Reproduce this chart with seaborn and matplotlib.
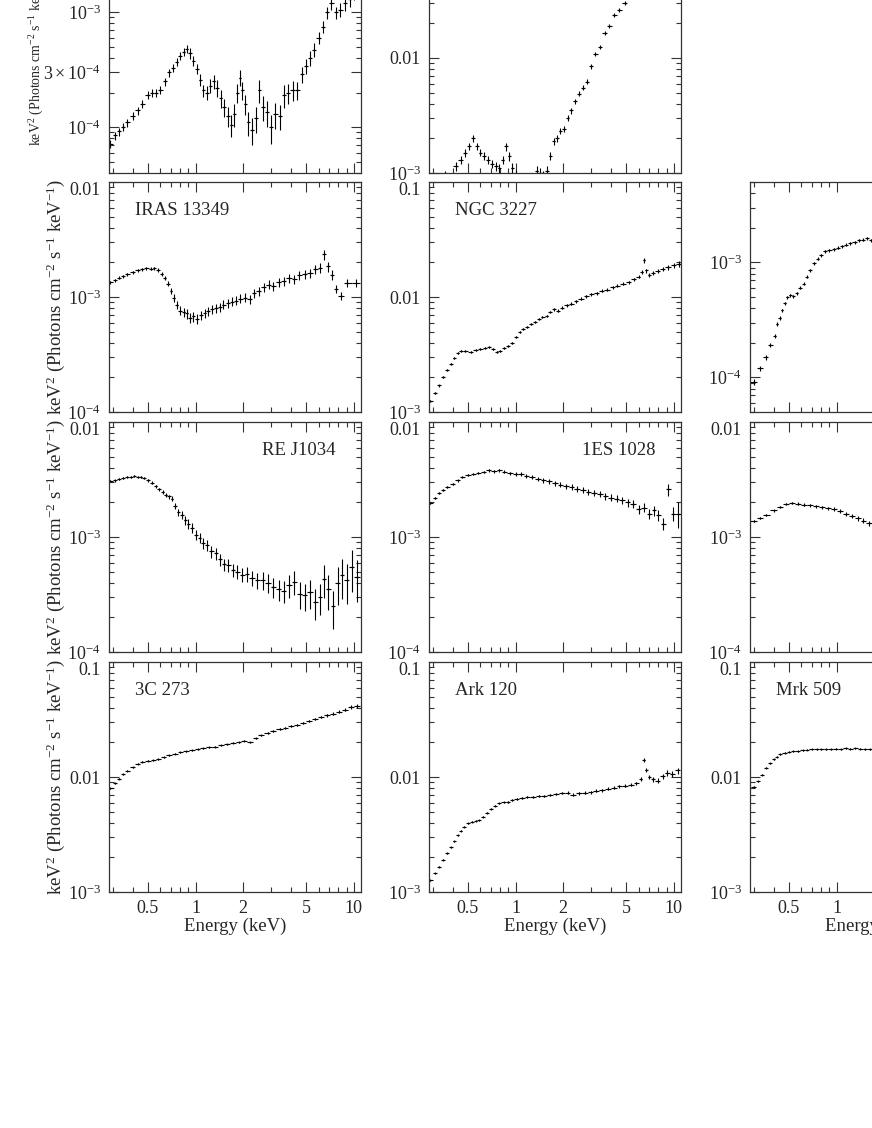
import matplotlib
matplotlib.use("Agg")
import matplotlib.pyplot as plt
import matplotlib.transforms as mtransforms
import seaborn as sns
import numpy as np
import pandas as pd

#####################
# Spectra (read off) #
#####################

# top row, left (name cut off) - flux in units of 1e-4
tl_energy = [0.29, 0.31, 0.33, 0.35, 0.37, 0.40, 0.43, 0.46, 0.50, 0.53,
             0.56, 0.60, 0.64, 0.68, 0.72, 0.76, 0.80, 0.84, 0.88, 0.92,
             0.97, 1.02, 1.07, 1.12, 1.18, 1.24, 1.30, 1.37, 1.44, 1.52,
             1.60, 1.68, 1.76, 1.84, 1.90, 1.97, 2.05, 2.15, 2.27, 2.40,
             2.53, 2.66, 2.82, 3.00, 3.20, 3.40, 3.60, 3.85, 4.10, 4.40,
             4.70, 5.00, 5.30, 5.60, 6.00, 6.40, 6.80, 7.20, 7.70, 8.20,
             8.80, 9.40, 10.0, 10.7]
tl_flux = [0.72, 0.85, 0.92, 1.00, 1.10, 1.25, 1.40, 1.60, 1.90, 2.00,
           2.00, 2.10, 2.50, 3.00, 3.30, 3.70, 4.20, 4.50, 4.80, 4.40,
           3.80, 3.20, 2.60, 2.10, 2.00, 2.30, 2.50, 2.20, 1.80, 1.50,
           1.25, 1.05, 1.30, 2.00, 2.70, 2.10, 1.60, 1.10, 0.95, 1.20,
           2.10, 1.50, 1.35, 1.00, 1.30, 1.25, 1.90, 2.00, 2.10, 2.10,
           2.90, 3.40, 4.00, 4.70, 6.00, 7.50, 10.0, 12.0, 10.0, 10.5,
           12.0, 13.0, 15.0, 17.0]
tl_err = [8, 8, 8, 8, 8, 8, 8, 8, 8, 8,
          8, 8, 8, 8, 8, 8, 8, 8, 8, 10,
          10, 10, 12, 12, 14, 14, 14, 16, 18, 18,
          20, 22, 22, 18, 16, 18, 20, 24, 26, 26,
          22, 24, 26, 28, 26, 24, 22, 20, 20, 18,
          16, 15, 14, 14, 12, 12, 12, 12, 12, 14,
          14, 14, 15, 15]

# top row, middle (name cut off) - flux in units of 1e-3
tm_energy = [0.33, 0.36, 0.39, 0.42, 0.45, 0.48, 0.51, 0.54, 0.57, 0.60,
             0.63, 0.67, 0.71, 0.75, 0.79, 0.83, 0.87, 0.91, 0.95, 1.00,
             1.10, 1.20, 1.30, 1.36, 1.42, 1.50, 1.58, 1.66, 1.74, 1.82,
             1.92, 2.02, 2.13, 2.25, 2.38, 2.52, 2.67, 2.83, 3.00, 3.20,
             3.40, 3.65, 3.90, 4.20, 4.50, 4.90, 5.30, 5.80, 6.40, 7.10,
             8.00, 9.00, 10.2]
tm_flux = [0.85, 0.95, 0.88, 1.15, 1.30, 1.50, 1.70, 2.00, 1.70, 1.50,
           1.40, 1.30, 1.20, 1.15, 1.10, 1.30, 1.70, 1.40, 1.10, 0.95,
           0.80, 0.70, 0.90, 1.05, 1.00, 0.95, 1.05, 1.40, 1.90, 2.00,
           2.30, 2.40, 3.00, 3.50, 4.20, 4.90, 5.50, 6.20, 8.50, 10.8,
           12.5, 16.5, 19.0, 23.5, 26.0, 30.0, 34.0, 37.0, 42.0, 46.0,
           50.0, 52.0, 53.0]
tm_err = [12, 10, 10, 9, 8, 8, 7, 7, 7, 7,
          8, 8, 8, 9, 9, 8, 8, 9, 10, 11,
          12, 12, 11, 10, 10, 10, 9, 8, 7, 7,
          6, 6, 6, 6, 5, 5, 5, 5, 5, 4,
          4, 4, 4, 4, 4, 4, 4, 4, 4, 4,
          5, 5, 5]

# IRAS 13349 - units of 1e-3
iras_energy = [0.29, 0.31, 0.33, 0.35, 0.37, 0.40, 0.43, 0.46, 0.49, 0.52,
               0.55, 0.58, 0.61, 0.64, 0.67, 0.70, 0.73, 0.76, 0.80, 0.84,
               0.88, 0.92, 0.97, 1.02, 1.08, 1.14, 1.20, 1.27, 1.34, 1.42,
               1.50, 1.60, 1.70, 1.80, 1.92, 2.05, 2.20, 2.35, 2.50, 2.70,
               2.90, 3.10, 3.35, 3.60, 3.90, 4.20, 4.50, 4.90, 5.30, 5.70,
               6.10, 6.50, 6.90, 7.30, 7.70, 8.30, 9.10, 10.3]
iras_flux = [1.34, 1.40, 1.47, 1.52, 1.58, 1.64, 1.70, 1.75, 1.78, 1.76,
             1.78, 1.72, 1.60, 1.45, 1.30, 1.12, 0.98, 0.85, 0.76, 0.74,
             0.72, 0.66, 0.68, 0.65, 0.70, 0.72, 0.75, 0.78, 0.80, 0.82,
             0.86, 0.88, 0.91, 0.93, 0.97, 0.99, 0.96, 1.08, 1.12, 1.22,
             1.28, 1.25, 1.35, 1.38, 1.45, 1.42, 1.55, 1.58, 1.62, 1.75,
             1.80, 2.35, 1.85, 1.55, 1.18, 1.02, 1.32, 1.32]
iras_err = [3, 3, 3, 3, 3, 3, 3, 3, 3, 3,
            3, 4, 4, 4, 5, 6, 8, 8, 9, 9,
            10, 10, 10, 10, 9, 9, 9, 9, 9, 9,
            9, 9, 9, 9, 9, 9, 9, 9, 9, 9,
            9, 9, 9, 9, 9, 9, 9, 9, 9, 9,
            10, 10, 10, 10, 8, 8, 8, 8]

# NGC 3227 - units of 1e-3
ngc_energy = [0.29, 0.31, 0.33, 0.35, 0.37, 0.39, 0.41, 0.43, 0.45, 0.48,
              0.52, 0.56, 0.60, 0.64, 0.68, 0.72, 0.76, 0.80, 0.85, 0.90,
              0.95, 1.00, 1.06, 1.12, 1.18, 1.25, 1.32, 1.40, 1.48, 1.57,
              1.66, 1.76, 1.86, 1.97, 2.10, 2.25, 2.40, 2.60, 2.80, 3.00,
              3.25, 3.50, 3.80, 4.10, 4.40, 4.80, 5.20, 5.60, 6.00, 6.25,
              6.45, 6.70, 7.00, 7.40, 7.90, 8.50, 9.20, 10.0, 10.8]
ngc_flux = [1.25, 1.45, 1.70, 2.00, 2.30, 2.60, 2.95, 3.25, 3.40, 3.40,
            3.35, 3.45, 3.50, 3.60, 3.65, 3.55, 3.35, 3.40, 3.60, 3.75,
            4.00, 4.50, 5.00, 5.30, 5.50, 5.80, 6.10, 6.40, 6.70, 6.90,
            7.40, 7.80, 7.60, 8.10, 8.50, 8.70, 9.20, 9.70, 10.2, 10.6,
            10.8, 11.3, 11.6, 12.2, 12.5, 13.0, 13.5, 14.2, 15.0, 16.5,
            21.0, 17.0, 15.5, 16.2, 16.8, 17.5, 18.2, 18.8, 19.3]
ngc_err = [2, 2, 2, 2, 2, 2, 2, 2, 2, 2,
           2, 2, 2, 2, 2, 2, 2, 2, 2, 2,
           2, 2, 2, 2, 2, 2, 2, 2, 2, 2,
           2, 3, 3, 3, 3, 3, 3, 3, 3, 3,
           3, 3, 3, 3, 3, 3, 3, 3, 3, 4,
           5, 4, 4, 4, 4, 4, 5, 5, 6]

# row 2, right (name cut off) - units of 1e-4
r1c3_energy = [0.30, 0.33, 0.36, 0.38, 0.41, 0.42, 0.44, 0.45, 0.47, 0.49,
               0.51, 0.53, 0.56, 0.59, 0.62, 0.65, 0.68, 0.72, 0.76, 0.80,
               0.85, 0.90, 0.96, 1.02, 1.08, 1.15, 1.22, 1.30, 1.38, 1.46,
               1.55, 1.65, 1.75, 1.90]
r1c3_flux = [0.91, 1.20, 1.50, 1.90, 2.30, 2.90, 3.30, 3.85, 4.40, 5.00,
             5.20, 5.10, 5.40, 6.00, 6.55, 7.50, 8.50, 9.80, 10.8, 11.5,
             12.5, 12.8, 13.0, 13.4, 13.8, 14.3, 14.6, 15.0, 15.5, 15.8,
             16.2, 15.5, 15.8, 16.0]
r1c3_err = [6, 5, 5, 4, 4, 4, 4, 3, 3, 3,
            3, 3, 3, 3, 3, 3, 3, 3, 3, 3,
            3, 3, 3, 3, 3, 3, 3, 3, 3, 3,
            3, 3, 3, 3]

# RE J1034 - units of 1e-3
rej_energy = [0.29, 0.31, 0.33, 0.35, 0.37, 0.39, 0.41, 0.43, 0.45, 0.47,
              0.50, 0.53, 0.56, 0.59, 0.62, 0.65, 0.68, 0.71, 0.74, 0.78,
              0.82, 0.86, 0.90, 0.95, 1.00, 1.06, 1.12, 1.19, 1.26, 1.34,
              1.42, 1.51, 1.61, 1.72, 1.84, 1.97, 2.11, 2.27, 2.45, 2.65,
              2.87, 3.10, 3.35, 3.60, 3.90, 4.20, 4.55, 4.90, 5.30, 5.70,
              6.10, 6.50, 6.90, 7.40, 7.90, 8.40, 9.00, 9.70, 10.5]
rej_flux = [3.05, 3.10, 3.20, 3.25, 3.30, 3.35, 3.40, 3.35, 3.35, 3.25,
            3.10, 2.95, 2.75, 2.60, 2.45, 2.30, 2.25, 2.15, 1.85, 1.65,
            1.55, 1.40, 1.30, 1.20, 1.05, 0.98, 0.88, 0.85, 0.75, 0.72,
            0.64, 0.58, 0.57, 0.52, 0.50, 0.47, 0.48, 0.44, 0.42, 0.42,
            0.40, 0.37, 0.35, 0.34, 0.38, 0.41, 0.32, 0.31, 0.33, 0.27,
            0.30, 0.43, 0.35, 0.25, 0.40, 0.47, 0.42, 0.55, 0.45]
rej_err = [2, 2, 2, 2, 2, 2, 2, 2, 2, 2,
           3, 3, 3, 3, 4, 4, 4, 5, 6, 7,
           8, 9, 10, 10, 10, 10, 11, 11, 12, 12,
           12, 12, 13, 13, 14, 14, 15, 15, 16, 17,
           18, 20, 20, 22, 22, 24, 26, 26, 28, 30,
           30, 32, 34, 36, 36, 38, 38, 40, 40]

# 1ES 1028 - units of 1e-3
es_energy = [0.29, 0.31, 0.33, 0.35, 0.37, 0.40, 0.43, 0.46, 0.50, 0.54,
             0.58, 0.63, 0.68, 0.73, 0.79, 0.85, 0.92, 1.00, 1.08, 1.17,
             1.27, 1.38, 1.50, 1.63, 1.77, 1.92, 2.08, 2.26, 2.45, 2.66,
             2.89, 3.14, 3.40, 3.70, 4.00, 4.35, 4.70, 5.10, 5.50, 6.00,
             6.50, 7.00, 7.50, 8.00, 8.60, 9.20, 9.90, 10.7]
es_flux = [1.98, 2.20, 2.40, 2.55, 2.70, 2.90, 3.10, 3.30, 3.45, 3.50,
           3.60, 3.70, 3.80, 3.75, 3.80, 3.70, 3.60, 3.55, 3.50, 3.40,
           3.30, 3.20, 3.10, 3.05, 2.95, 2.85, 2.75, 2.70, 2.60, 2.55,
           2.45, 2.40, 2.35, 2.25, 2.20, 2.15, 2.10, 2.00, 1.95, 1.75,
           1.80, 1.60, 1.70, 1.55, 1.30, 2.60, 1.60, 1.60]
es_err = [2, 2, 2, 2, 2, 2, 2, 2, 2, 2,
          2, 2, 3, 3, 3, 3, 3, 4, 4, 4,
          4, 4, 5, 5, 5, 5, 5, 6, 6, 6,
          6, 6, 6, 7, 7, 7, 7, 8, 8, 9,
          9, 10, 10, 11, 12, 12, 14, 25]

# row 3, right (name cut off) - units of 1e-3
r2c3_energy = [0.30, 0.33, 0.36, 0.40, 0.44, 0.48, 0.52, 0.57, 0.62, 0.68,
               0.74, 0.81, 0.88, 0.96, 1.05, 1.15, 1.25, 1.36, 1.48, 1.60,
               1.75, 1.90]
r2c3_flux = [1.38, 1.45, 1.55, 1.70, 1.82, 1.92, 1.98, 1.95, 1.90, 1.88,
             1.85, 1.82, 1.78, 1.74, 1.68, 1.60, 1.52, 1.45, 1.38, 1.32,
             1.30, 1.25]
r2c3_err = [2, 2, 2, 2, 2, 2, 2, 3, 3, 3,
            3, 3, 3, 4, 4, 4, 4, 5, 5, 5,
            5, 5]

# 3C 273 - units of 1e-2
qso_energy = [0.29, 0.31, 0.33, 0.35, 0.37, 0.40, 0.43, 0.46, 0.50, 0.54,
              0.58, 0.63, 0.68, 0.74, 0.80, 0.87, 0.95, 1.03, 1.12, 1.22,
              1.33, 1.45, 1.58, 1.72, 1.87, 2.03, 2.20, 2.40, 2.60, 2.85,
              3.10, 3.40, 3.70, 4.00, 4.40, 4.80, 5.20, 5.70, 6.20, 6.80,
              7.40, 8.10, 8.80, 9.60, 10.5]
qso_flux = [0.80, 0.88, 0.97, 1.06, 1.13, 1.22, 1.30, 1.36, 1.39, 1.40,
            1.42, 1.48, 1.55, 1.60, 1.64, 1.68, 1.71, 1.75, 1.78, 1.82,
            1.84, 1.88, 1.93, 1.98, 2.00, 2.06, 2.00, 2.18, 2.30, 2.42,
            2.50, 2.60, 2.65, 2.75, 2.85, 2.95, 3.05, 3.20, 3.35, 3.45,
            3.55, 3.70, 3.85, 4.10, 4.15]
qso_err = [1, 1, 1, 1, 1, 1, 1, 1, 1, 1,
           1, 1, 1, 1, 1, 1, 1, 1, 1, 1,
           1, 1, 1, 1, 1, 1, 1, 1, 1, 2,
           2, 2, 2, 2, 2, 2, 2, 2, 2, 3,
           3, 3, 3, 4, 4]

# Ark 120 - units of 1e-3
ark_energy = [0.29, 0.31, 0.33, 0.35, 0.37, 0.39, 0.41, 0.43, 0.45, 0.47,
              0.50, 0.53, 0.56, 0.59, 0.62, 0.66, 0.70, 0.74, 0.79, 0.84,
              0.89, 0.95, 1.02, 1.10, 1.19, 1.29, 1.40, 1.52, 1.65, 1.80,
              1.96, 2.13, 2.32, 2.52, 2.74, 2.98, 3.24, 3.52, 3.83, 4.17,
              4.53, 4.93, 5.36, 5.80, 6.20, 6.45, 6.70, 7.00, 7.40, 7.90,
              8.50, 9.10, 9.80, 10.6]
ark_flux = [1.27, 1.45, 1.65, 1.90, 2.17, 2.45, 2.75, 3.10, 3.40, 3.70,
            3.95, 4.10, 4.15, 4.20, 4.50, 4.90, 5.30, 5.60, 5.90, 6.05,
            6.10, 6.30, 6.45, 6.60, 6.70, 6.75, 6.80, 6.90, 7.00, 7.10,
            7.20, 7.30, 7.00, 7.25, 7.30, 7.40, 7.60, 7.70, 7.90, 8.10,
            8.30, 8.40, 8.60, 8.80, 9.60, 14.0, 11.5, 10.0, 9.60, 9.30,
            10.2, 10.8, 10.6, 11.4]
ark_err = [1, 1, 1, 1, 1, 1, 1, 1, 1, 1,
           1, 1, 1, 1, 1, 1, 1, 1, 1, 1,
           2, 2, 2, 2, 2, 2, 2, 2, 2, 2,
           2, 3, 3, 3, 3, 3, 3, 3, 3, 3,
           3, 3, 3, 3, 4, 4, 4, 4, 5, 5,
           5, 6, 6, 6]

# Mrk 509 - units of 1e-2
mrk_energy = [0.30, 0.32, 0.34, 0.36, 0.38, 0.40, 0.42, 0.44, 0.47, 0.50,
              0.53, 0.57, 0.61, 0.65, 0.70, 0.75, 0.80, 0.86, 0.92, 0.99,
              1.06, 1.14, 1.22, 1.31, 1.41, 1.51, 1.62, 1.75, 1.90]
mrk_flux = [0.82, 0.92, 1.05, 1.20, 1.32, 1.42, 1.50, 1.57, 1.63, 1.66,
            1.67, 1.68, 1.70, 1.72, 1.74, 1.75, 1.74, 1.74, 1.75, 1.76,
            1.75, 1.77, 1.76, 1.78, 1.76, 1.75, 1.74, 1.75, 1.76]
mrk_err = [1, 1, 1, 1, 1, 1, 1, 1, 1, 1,
           1, 1, 1, 1, 1, 1, 1, 1, 1, 1,
           1, 1, 1, 1, 1, 1, 1, 1, 1]

# Tick labels for the y axes
lab_1e4 = r"$10^{-4}$"
lab_3e4 = r"$3\times10^{-4}$"
lab_1e3 = r"$10^{-3}$"
lab_001 = "0.01"
lab_01 = "0.1"

ylabel = r"keV$^2$ (Photons cm$^{-2}$ s$^{-1}$ keV$^{-1}$)"


def main():

    sns.set_theme(style="ticks")
    plt.rcParams["font.family"] = ["Liberation Serif", "DejaVu Serif"]
    plt.rcParams["mathtext.fontset"] = "custom"
    plt.rcParams["mathtext.rm"] = "Liberation Serif"
    plt.rcParams["mathtext.it"] = "Liberation Serif:italic"
    plt.rcParams["mathtext.bf"] = "Liberation Serif:bold"

    W, H = 872.0, 1128.0
    fig = plt.figure(figsize=(W / 100, H / 100), dpi=100)

    col_left = [109, 429, 750]
    row_top = [-57, 182, 422, 662]
    ax_w, ax_h = 252, 230

    # (row, col, energy, flux, scale, err, ylim, yticks, yticklabels, name, name side)
    panels = [
        (0, 0, tl_energy, tl_flux, 1e-4, tl_err, (4e-5, 4e-3),
         [1e-4, 3e-4, 1e-3], [lab_1e4, lab_3e4, lab_1e3], None, None),
        (0, 1, tm_energy, tm_flux, 1e-3, tm_err, (1e-3, 0.1),
         [1e-3, 1e-2, 1e-1], [lab_1e3, lab_001, lab_01], None, None),
        (1, 0, iras_energy, iras_flux, 1e-3, iras_err, (1e-4, 1e-2),
         [1e-4, 1e-3, 1e-2], [lab_1e4, lab_1e3, lab_001], "IRAS 13349", "left"),
        (1, 1, ngc_energy, ngc_flux, 1e-3, ngc_err, (1e-3, 0.1),
         [1e-3, 1e-2, 1e-1], [lab_1e3, lab_001, lab_01], "NGC 3227", "left"),
        (1, 2, r1c3_energy, r1c3_flux, 1e-4, r1c3_err, (5e-5, 5e-3),
         [1e-4, 1e-3], [lab_1e4, lab_1e3], None, None),
        (2, 0, rej_energy, rej_flux, 1e-3, rej_err, (1e-4, 1e-2),
         [1e-4, 1e-3, 1e-2], [lab_1e4, lab_1e3, lab_001], "RE J1034", "right"),
        (2, 1, es_energy, es_flux, 1e-3, es_err, (1e-4, 1e-2),
         [1e-4, 1e-3, 1e-2], [lab_1e4, lab_1e3, lab_001], "1ES 1028", "right"),
        (2, 2, r2c3_energy, r2c3_flux, 1e-3, r2c3_err, (1e-4, 1e-2),
         [1e-4, 1e-3, 1e-2], [lab_1e4, lab_1e3, lab_001], None, None),
        (3, 0, qso_energy, qso_flux, 1e-2, qso_err, (1e-3, 0.1),
         [1e-3, 1e-2, 1e-1], [lab_1e3, lab_001, lab_01], "3C 273", "left"),
        (3, 1, ark_energy, ark_flux, 1e-3, ark_err, (1e-3, 0.1),
         [1e-3, 1e-2, 1e-1], [lab_1e3, lab_001, lab_01], "Ark 120", "left"),
        (3, 2, mrk_energy, mrk_flux, 1e-2, mrk_err, (1e-3, 0.1),
         [1e-3, 1e-2, 1e-1], [lab_1e3, lab_001, lab_01], "Mrk 509", "left"),
    ]

    fs = 13.5
    nudge_up = mtransforms.ScaledTranslation(0, 3 / 100, fig.dpi_scale_trans)

    for row, col, en, fl, scale, er, ylim, yt, ytl, name, side in panels:

        left = col_left[col] / W
        bottom = 1 - (row_top[row] + ax_h) / H
        ax = fig.add_axes([left, bottom, ax_w / W, ax_h / H])
        ax.set_xscale("log")
        ax.set_yscale("log")

        df = pd.DataFrame({"Energy": en, "Flux": np.array(fl) * scale})
        yerr = df.Flux.to_numpy() * np.array(er) / 100.0

        # bin half widths from the spacing of the energies
        e = df.Energy.to_numpy()
        edges = np.sqrt(e[1:] * e[:-1])
        lo = np.empty_like(e)
        hi = np.empty_like(e)
        lo[1:] = e[1:] - edges
        hi[:-1] = edges - e[:-1]
        lo[0] = hi[0]
        hi[-1] = lo[-1]

        ax.errorbar(e, df.Flux, xerr=[lo, hi], yerr=yerr,
                    fmt="none", ecolor="black", elinewidth=0.8, capsize=0)
        sns.scatterplot(data=df, x="Energy", y="Flux", ax=ax, s=2,
                        color="black", linewidth=0, legend=False)

        ax.set_xlim(0.284, 11.1)
        ax.set_ylim(*ylim)

        ax.set_xticks([0.5, 1, 2, 5, 10])
        ax.set_xticks([0.3, 0.4, 0.6, 0.7, 0.8, 0.9, 3, 4, 6, 7, 8, 9], minor=True)
        if row == 3:
            ax.set_xticklabels(["0.5", "1", "2", "5", "10"])
            ax.set_xlabel("Energy (keV)", fontsize=fs, labelpad=0)
        else:
            ax.set_xticklabels([])
            ax.set_xlabel("")

        ax.set_yticks(yt)
        ax.set_yticklabels(ytl)
        # labels on the frame edges are kept inside the frame
        for val, lab in zip(yt, ax.get_yticklabels()):
            if np.isclose(val, ylim[1]):
                lab.set_va("top")
            elif np.isclose(val, ylim[0]):
                lab.set_transform(lab.get_transform() + nudge_up)
        ax.yaxis.set_minor_locator(matplotlib.ticker.LogLocator(base=10, subs=np.arange(2, 10)))
        ax.yaxis.set_minor_formatter(matplotlib.ticker.NullFormatter())

        ax.tick_params(which="both", direction="in", top=True, right=True,
                       labelsize=13, width=0.8, color="#333333")
        ax.tick_params(which="major", length=7, pad=6)
        ax.tick_params(which="minor", length=3.5)
        for s in ax.spines.values():
            s.set_linewidth(0.9)
            s.set_color("#333333")

        if col == 0:
            if row == 0:
                ax.set_ylabel(ylabel, fontsize=10)
                ax.yaxis.set_label_coords(-0.25, 0.5)
            else:
                ax.set_ylabel(ylabel, fontsize=fs)
                ax.yaxis.set_label_coords(-0.167, 0.5)
        else:
            ax.set_ylabel("")

        if name is not None:
            if side == "left":
                ax.text(0.103, 0.875, name, transform=ax.transAxes,
                        fontsize=fs, ha="left", va="center")
            else:
                ax.text(0.90, 0.875, name, transform=ax.transAxes,
                        fontsize=fs, ha="right", va="center")

    fig.savefig("out.png", dpi=100)


if __name__ == "__main__":
    main()
